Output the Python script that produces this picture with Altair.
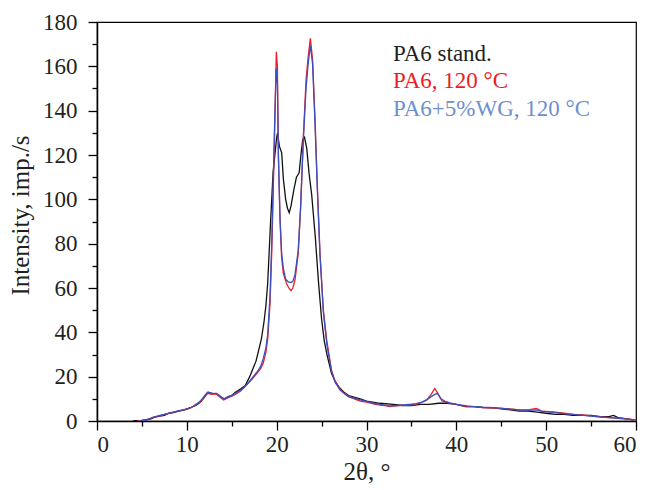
import altair as alt
import pandas as pd

# ---- data ----
series_names = ["PA6 stand.", "PA6, 120 °C", "PA6+5%WG, 120 °C"]
line_colors = ["#111111", "#e8202a", "#3c4fbf"]
label_colors = ["#231f20", "#ed1c24", "#6f8fd0"]

black_x = [4.0, 5, 6, 6.5, 7, 7.5, 8, 8.5, 9, 9.5, 10, 10.5, 11, 11.5, 12, 12.4, 12.8, 13.3, 13.8, 14.2,
           14.6, 15.0, 15.4, 16.0, 16.5, 17.0, 17.4, 17.7, 18.0, 18.3, 18.6, 18.8, 19.0, 19.3, 19.6, 19.8,
           20.0, 20.1, 20.3, 20.56, 20.75, 21.0, 21.2, 21.4, 21.6, 21.9, 22.2, 22.5, 22.7, 22.9, 23.1, 23.35,
           23.6, 23.9, 24.3, 24.65, 25.0, 25.3, 25.6, 26.1, 26.5, 27.0, 27.5, 28, 29.3, 30, 31.5, 33, 34, 35,
           36, 37, 38, 39, 40, 41, 42, 43, 44, 45, 46, 47, 48, 49, 50, 51, 52, 53, 54, 55, 56, 57, 57.5, 58,
           59, 59.7]
black_y = [0, 0.3, 1, 1.8, 2.2, 2.5, 3.5, 3.8, 4.3, 4.8, 5.5, 6.2, 7, 8.5, 11, 13, 12.5, 12.2, 10.5, 10,
           11, 11.5, 13, 14.5, 16, 20, 24, 27, 32, 37, 45, 52, 62, 88, 112, 120,
           128, 130, 124, 121, 109, 100, 96, 94, 97, 104, 110, 112, 120, 127, 128, 123,
           112, 102, 83, 63, 46, 36, 30, 21.5, 18, 15, 13, 11.5, 10, 9, 8, 7.5, 7, 7,
           7.5, 7.5, 8, 8, 7.5, 6.5, 6.5, 6, 6, 5.5, 5, 4.5, 4.5, 4, 3.5, 3, 3, 2.5, 2.5, 2.5, 2, 2, 2.5, 1.5,
           1, 0.5]

red_x = [4.5, 5.5, 6.3, 7, 8, 9, 10, 10.5, 11, 11.5, 12, 12.3, 12.8, 13.3, 13.8, 14.1, 14.6, 15.2, 16,
         16.7, 17.3, 17.8, 18.2, 18.5, 18.8, 19.0, 19.26, 19.45, 19.63, 19.8, 19.96, 20.08, 20.19, 20.37,
         20.55, 20.74, 21.1, 21.35, 21.6, 21.8, 22.04, 22.4, 22.67, 22.97, 23.27, 23.5, 23.75, 24.0, 24.27,
         24.53, 24.82, 25.2, 25.57, 26.1, 26.5, 27.05, 27.5, 28, 29.3, 30, 31, 32, 32.6, 33.5, 34.8, 35.5,
         36.2, 36.7, 37.2, 37.6, 38.0, 38.4, 39.3, 40, 41.2, 42, 43, 44, 44.9, 46, 47, 48, 48.9, 49.5, 50.4,
         51, 52, 53, 54.1, 55, 56, 57, 58, 59, 60]
red_y = [0, 0.5, 1.7, 2.3, 3.5, 4.5, 5.2, 6, 7.5, 8.5, 11, 12.5, 12, 12.3, 10.5, 9.5, 10.5, 11.5, 13.5,
         16.5, 19, 21.5, 23.5, 26, 31, 37, 53, 76, 106, 136, 166.6, 160, 121, 91,
         74, 66.6, 62, 60, 58.8, 60, 63.6, 75.6, 96.7, 128, 153.8, 164, 172.6, 163, 136,
         106, 76, 50, 36.5, 23, 18, 14.5, 12.5, 11, 9, 8.5, 7.5, 7, 6.5, 7, 7.2, 7.5,
         8.5, 9.5, 12, 14.7, 12, 9, 8, 7.5, 6.5, 6.5, 6, 5.8, 5.7, 5.5, 5, 5, 5.7, 4.5, 4.2,
         4, 3.5, 3, 2.7, 2.3, 2, 1.5, 1.3, 1, 0.5]

blue_x = [4.8, 5.5, 6.3, 7, 8, 9, 10, 10.5, 11, 11.5, 12, 12.3, 12.8, 13.3, 13.8, 14.1, 14.6, 15.2, 16,
          16.7, 17.3, 17.8, 18.2, 18.5, 18.8, 19.0, 19.26, 19.45, 19.63, 19.8, 19.95, 20.08, 20.2, 20.37,
          20.55, 20.74, 21.0, 21.3, 21.6, 21.8, 22.04, 22.4, 22.67, 22.97, 23.27, 23.5, 23.75, 24.0, 24.27,
          24.53, 24.82, 25.2, 25.57, 26.1, 26.5, 27.05, 27.5, 28, 29.3, 30, 31, 32, 32.6, 33.5, 34.8, 35.5,
          36.2, 36.7, 37.2, 37.6, 37.9, 38.3, 38.7, 39.3, 40, 41.2, 42, 43, 44, 44.9, 46, 47, 48, 48.9, 49.5,
          50.4, 51, 52, 53, 54.1, 55, 56, 57, 58, 59, 59.8]
blue_y = [0, 0.3, 1.8, 2.5, 3.4, 4.6, 5.4, 6.2, 7.2, 9, 11.5, 13, 12.5, 12.5, 11, 10, 10.8, 12, 14,
          16.5, 19.5, 22, 24.5, 28, 33, 39, 56, 80, 110, 138, 159, 152, 118, 92,
          76, 69, 64, 62.8, 62.5, 63, 66, 77, 97, 127, 150, 161, 169.6, 161, 134,
          104, 75, 49, 35, 22.5, 17.5, 14, 12.5, 11, 9.5, 8.8, 7.8, 7.2, 6.8, 7, 7.5, 7.8,
          8.5, 9.5, 11, 12, 12.5, 10, 9, 8.2, 7.5, 6.8, 6.5, 6.2, 6, 5.8, 5.3, 5, 4.8, 5, 4.5,
          4, 3.8, 3.3, 3, 2.5, 2.2, 1.8, 1.5, 1.2, 0.8, 0.4]

x_major = [0, 10, 20, 30, 40, 50, 60]
x_minor = [5, 15, 25, 35, 45, 55]
y_major = [0, 20, 40, 60, 80, 100, 120, 140, 160, 180]
y_minor = [10, 30, 50, 70, 90, 110, 130, 150, 170]

frames = []
for name, xs, ys in zip(series_names, [black_x, red_x, blue_x], [black_y, red_y, blue_y]):
    frames.append(pd.DataFrame({"theta": xs, "intensity": ys, "series": name}))
df = pd.concat(frames, ignore_index=True)

FONT = "Liberation Serif"
xscale = alt.Scale(domain=[0, 60], nice=False)
yscale = alt.Scale(domain=[0, 180], nice=False)

lines = alt.Chart(df).mark_line(strokeWidth=1.3, clip=True).encode(
    x=alt.X("theta:Q", scale=xscale,
            axis=alt.Axis(values=x_major, title="2θ, °", orient="bottom", tickSize=9, labelPadding=3,
                          titleX=269.5, titleY=50, titleAlign="center", titleBaseline="middle")),
    y=alt.Y("intensity:Q", scale=yscale,
            axis=alt.Axis(values=y_major, title="Intensity, imp./s", orient="left", tickSize=9,
                          labelPadding=11, titleX=-77, titleY=193, titleAlign="center",
                          titleBaseline="middle", titleAngle=270)),
    color=alt.Color("series:N", scale=alt.Scale(domain=series_names, range=line_colors), legend=None),
)

minor = alt.Chart(df).mark_point(opacity=0).encode(
    x=alt.X("theta:Q", scale=xscale,
            axis=alt.Axis(values=x_minor, labels=False, title=None, orient="bottom", tickSize=5, domain=False)),
    y=alt.Y("intensity:Q", scale=yscale,
            axis=alt.Axis(values=y_minor, labels=False, title=None, orient="left", tickSize=5, domain=False)),
)

leg_df = pd.DataFrame({"label": series_names, "color": label_colors})
leg_y = [39, 66, 94]
legend_layers = []
for i, name in enumerate(series_names):
    legend_layers.append(
        alt.Chart(leg_df).transform_filter(alt.datum.label == name).mark_text(
            align="left", baseline="alphabetic", font=FONT, fontSize=23, color=label_colors[i]
        ).encode(x=alt.value(296), y=alt.value(leg_y[i]), text="label:N")
    )

chart = alt.layer(lines, minor, *legend_layers).resolve_axis(
    x="independent", y="independent"
).properties(
    width=539, height=399,
    autosize=alt.AutoSizeParams(type="none"),
    padding={"left": 89, "top": 14, "right": 5, "bottom": 66},
    background="white",
).configure_view(
    stroke="black", strokeWidth=1.2
).configure_axis(
    grid=False, domainColor="black", domainWidth=1.5, tickColor="black", tickWidth=1.3,
    labelFont=FONT, labelFontSize=23, labelColor="#231f20",
    titleFont=FONT, titleFontSize=25, titleFontWeight="normal", titleColor="#231f20",
)

chart.save("out.html", embed_options={"renderer": "svg", "actions": False})
